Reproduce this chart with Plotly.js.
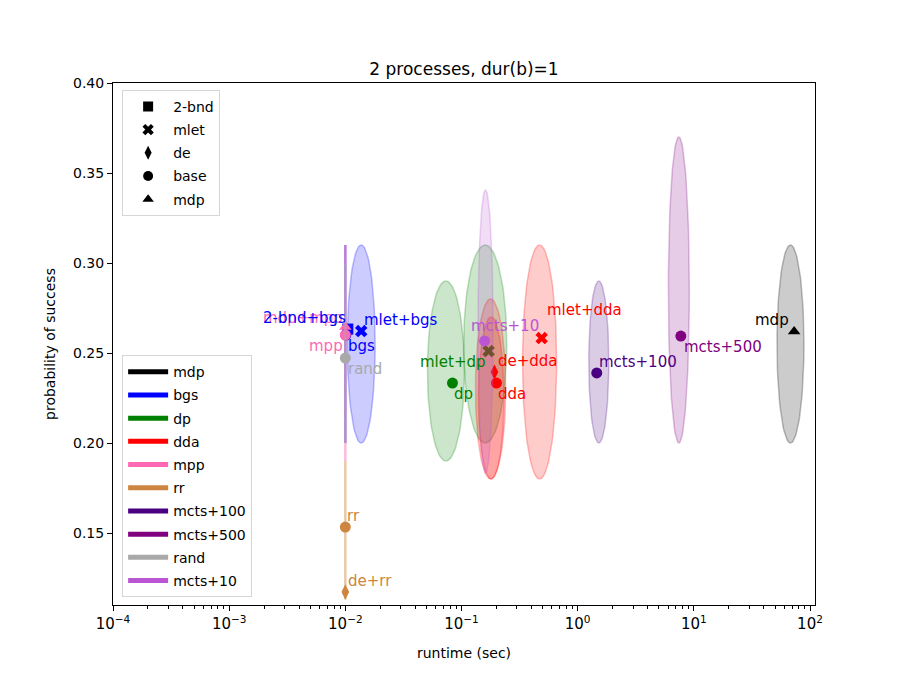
<!DOCTYPE html>
<html>
<head>
<meta charset="utf-8">
<script src="https://cdn.plot.ly/plotly-3.0.1.min.js"></script>
<style>
  body { margin: 0; background: white; }
  #chart { width: 906px; height: 680px; }
</style>
</head>
<body>
<div id="chart"></div>
<script>
// algorithm groups (colour legend)
const groupNames = ["mdp", "bgs", "dp", "dda", "mpp", "rr", "mcts+100", "mcts+500", "rand", "mcts+10"];
const groupColors = ["#000000", "#0000ff", "#008000", "#ff0000", "#ff69b4", "#cd853f", "#4b0082", "#800080", "#a9a9a9", "#ba55d3"];
const groupRgb = ["0,0,0", "0,0,255", "0,128,0", "255,0,0", "255,105,180", "205,133,63", "75,0,130", "128,0,128", "169,169,169", "186,85,211"];

// marker kinds (shape legend)
const kindNames = ["2-bnd", "mlet", "de", "base", "mdp"];
const kindSymbols = ["square", "x", "diamond-tall", "circle", "triangle-up"];

// labelled points
const ptLabels = ["mdp", "mpp", "mdp+mpp", "2-bnd+bgs", "bgs", "mlet+bgs", "rand", "rr", "de+rr",
  "dp", "mlet+dp", "dda", "de+dda", "mlet+dda", "mcts+100", "mcts+500", "mcts+10"];
const ptGroup = ["mdp", "mpp", "mpp", "bgs", "bgs", "bgs", "rand", "rr", "rr",
  "dp", "dp", "dda", "dda", "dda", "mcts+100", "mcts+500", "mcts+10"];
const ptKind = ["mdp", "base", "mdp", "2-bnd", "base", "mlet", "base", "base", "de",
  "base", "mlet", "base", "de", "mlet", "base", "base", "base"];
const ptRuntime = [73, 0.01, 0.01, 0.0105, 0.0101, 0.0137, 0.01, 0.01, 0.01,
  0.0836, 0.171, 0.2, 0.192, 0.49, 1.46, 7.73, 0.158];
const ptSuccess = [0.262, 0.26, 0.2644, 0.2633, 0.26, 0.2622, 0.2472, 0.1533, 0.1172,
  0.2333, 0.2511, 0.2333, 0.2394, 0.2583, 0.2389, 0.2594, 0.2567];

// spread ellipses: centre, half width (decades), half height
const ellGroup = ["mdp", "bgs", "bgs", "dp", "dp", "dda", "dda", "dda", "mpp", "rand", "rr", "mcts+100", "mcts+500", "mcts+10"];
const ellRuntime = [67.9, 0.0137, 0.01, 0.0734, 0.16, 0.178, 0.18, 0.47, 0.01, 0.01, 0.01, 1.52, 7.43, 0.161];
const ellSuccess = [0.255, 0.255, 0.255, 0.24, 0.255, 0.23, 0.225, 0.245, 0.25, 0.25, 0.1515, 0.245, 0.285, 0.262];
const ellHalfW = [0.116, 0.12, 0, 0.159, 0.185, 0.13, 0.11, 0.147, 0, 0, 0, 0.086, 0.09, 0.065];
const ellHalfH = [0.055, 0.055, 0.055, 0.05, 0.055, 0.05, 0.045, 0.065, 0.06, 0.05, 0.0385, 0.045, 0.085, 0.0786];

// x axis decades
const xDecades = [-4, -3, -2, -1, 0, 1, 2];

// label placement: [xanchor, yanchor, xshift, yshift]
const labelPlace = {
  "mdp": ["right", "bottom", -3, 0],
  "mpp": ["right", "top", 0, 0],
  "mdp+mpp": ["right", "bottom", 0, -2],
  "2-bnd+bgs": ["right", "bottom", 0, 0],
  "bgs": ["left", "top", 0, 0],
  "mlet+bgs": ["left", "bottom", 1, 0],
  "rand": ["left", "top", 1, 0],
  "rr": ["left", "bottom", 0, 0],
  "de+rr": ["left", "bottom", 1, 0],
  "dp": ["left", "top", 0, 0],
  "mlet+dp": ["right", "top", -1, 0],
  "dda": ["left", "top", 0, 0],
  "de+dda": ["left", "bottom", 2, 0],
  "mlet+dda": ["left", "bottom", 3, 17],
  "mcts+100": ["left", "bottom", 0, 0],
  "mcts+500": ["left", "top", 1, 0],
  "mcts+10": ["left", "bottom", -16, 4],
};

function groupIdx(g) { return groupNames.indexOf(g); }

function ellipseTrace(i) {
  const gi = groupIdx(ellGroup[i]);
  const lx = Math.log10(ellRuntime[i]);
  const xs = [], ys = [];
  for (let k = 0; k <= 100; k++) {
    const t = (2 * Math.PI * k) / 100;
    xs.push(Math.pow(10, lx + ellHalfW[i] * Math.cos(t)));
    ys.push(ellSuccess[i] + ellHalfH[i] * Math.sin(t));
  }
  const flat = ellHalfW[i] === 0;
  return {
    x: xs, y: ys,
    type: "scatter", mode: "lines",
    fill: flat ? "none" : "toself",
    fillcolor: `rgba(${groupRgb[gi]},0.2)`,
    line: { color: `rgba(${groupRgb[gi]},${flat ? 0.45 : 0.25})`, width: flat ? 2.5 : 1.5 },
    hoverinfo: "skip", showlegend: false,
  };
}

function pointTrace(i) {
  const gi = groupIdx(ptGroup[i]);
  const sym = kindSymbols[kindNames.indexOf(ptKind[i])];
  return {
    x: [ptRuntime[i]], y: [ptSuccess[i]],
    type: "scatter", mode: "markers",
    marker: { symbol: sym, color: groupColors[gi], size: 11, line: { width: 0 } },
    name: ptLabels[i], showlegend: false,
  };
}

const data = [];

// draw group by group: spreads then points
groupNames.forEach((g) => {
  ellGroup.forEach((eg, i) => { if (eg === g) data.push(ellipseTrace(i)); });
  ptGroup.forEach((pg, i) => { if (pg === g) data.push(pointTrace(i)); });
});

// shape legend
kindNames.forEach((k, i) => {
  data.push({
    x: [null], y: [null], type: "scatter", mode: "markers",
    marker: { symbol: kindSymbols[i], color: "black", size: 10 },
    name: k, legend: "legend", legendgroup: "k" + i,
  });
});

// colour legend
groupNames.forEach((g, i) => {
  data.push({
    x: [null], y: [null], type: "scatter", mode: "lines",
    line: { color: groupColors[i], width: 5 },
    name: g, legend: "legend2", legendgroup: "g" + i,
  });
});

// carrier for the minor tick axis
data.push({ x: [null], y: [null], xaxis: "x2", type: "scatter", mode: "markers", showlegend: false, hoverinfo: "skip" });

const annotations = ptLabels.map((lab, i) => {
  const p = labelPlace[lab];
  return {
    x: Math.log10(ptRuntime[i]), y: ptSuccess[i],
    xref: "x", yref: "y", text: lab, showarrow: false,
    xanchor: p[0], yanchor: p[1], xshift: p[2], yshift: p[3],
    font: { size: 15, color: groupColors[groupIdx(ptGroup[i])] },
  };
});

const minorTicks = [];
xDecades.slice(0, -1).forEach((d) => {
  for (let k = 2; k <= 9; k++) minorTicks.push(k * Math.pow(10, d));
});

const legendStyle = {
  bordercolor: "#d6d6d6", borderwidth: 1, bgcolor: "rgba(255,255,255,0.8)",
  font: { size: 14, color: "black" }, itemwidth: 40, tracegroupgap: 2,
  traceorder: "grouped",
};

const xRange = [-4, 2.043];

const layout = {
  width: 906, height: 680,
  margin: { l: 113, r: 91, t: 83, b: 75 },
  font: { family: "DejaVu Sans", size: 14, color: "black" },
  paper_bgcolor: "white", plot_bgcolor: "white",
  title: { text: "2 processes, dur(b)=1", font: { size: 17 }, x: 0.5, xref: "paper", y: 1, yref: "paper", yanchor: "bottom", pad: { b: 8 } },
  xaxis: {
    type: "log", range: xRange,
    tickvals: xDecades.map((d) => Math.pow(10, d)),
    ticktext: xDecades.map((d) => "10<sup>" + (d < 0 ? "\u2212" + (-d) : d) + "</sup>"),
    tickfont: { size: 15 },
    showline: true, linecolor: "black", linewidth: 1, mirror: true,
    ticks: "outside", ticklen: 5, tickcolor: "black",
    showgrid: false, zeroline: false,
    title: { text: "runtime (sec)", font: { size: 14 }, standoff: 16 },
  },
  xaxis2: {
    type: "log", range: xRange, overlaying: "x", anchor: "y", side: "bottom",
    tickvals: minorTicks, showticklabels: false,
    ticks: "outside", ticklen: 3, tickcolor: "black",
    showgrid: false, zeroline: false, showline: false,
  },
  yaxis: {
    range: [0.11, 0.4], dtick: 0.05, tick0: 0, tickformat: ".2f",
    showline: true, linecolor: "black", linewidth: 1, mirror: true,
    ticks: "outside", ticklen: 5, tickcolor: "black",
    showgrid: false, zeroline: false,
    title: { text: "probability of success", font: { size: 14 }, standoff: 14 },
  },
  legend: Object.assign({ x: 0.013, y: 0.987, xanchor: "left", yanchor: "top" }, legendStyle),
  legend2: Object.assign({ x: 0.013, y: 0.015, xanchor: "left", yanchor: "bottom" }, legendStyle),
  annotations: annotations,
  showlegend: true,
};

Plotly.newPlot("chart", data, layout, { displayModeBar: false, staticPlot: true });
</script>
</body>
</html>
